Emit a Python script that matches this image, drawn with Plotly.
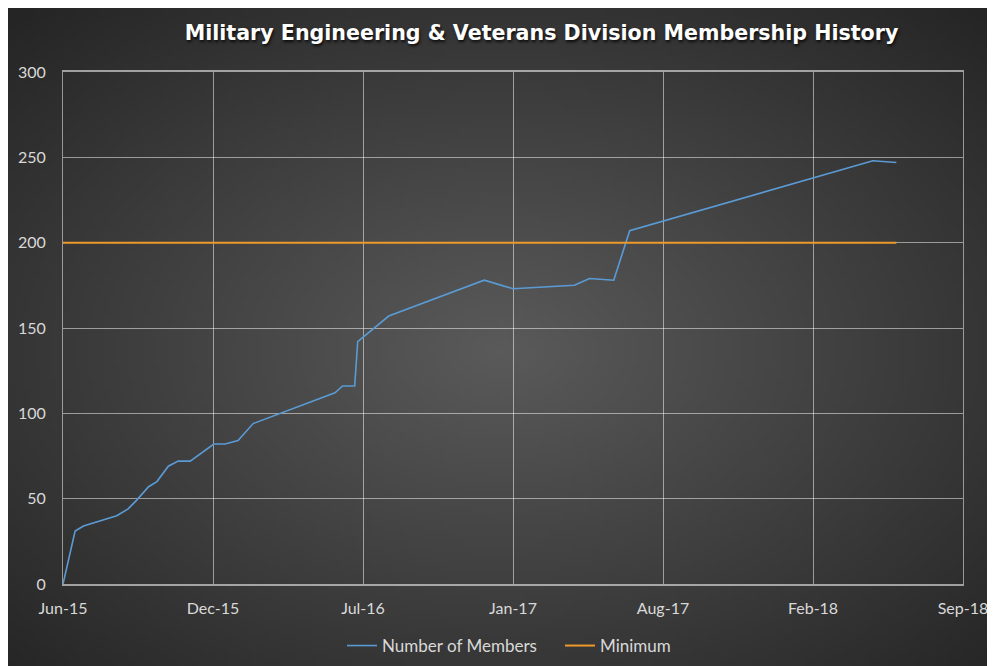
import base64
import struct
import zlib
import plotly.graph_objects as go

# ---- data ----
dates = ["2015-06-06", "2015-06-22", "2015-07-03", "2015-08-16", "2015-08-31",
         "2015-09-11", "2015-09-27", "2015-10-08", "2015-10-23", "2015-11-05",
         "2015-11-21", "2015-12-13", "2015-12-22", "2016-01-06", "2016-01-23",
         "2016-02-12", "2016-05-30", "2016-06-09", "2016-06-25", "2016-06-29",
         "2016-08-09", "2016-12-13", "2017-01-20", "2017-04-11", "2017-05-01",
         "2017-06-02", "2017-06-23", "2018-05-10", "2018-06-10"]
members = [0, 31, 34, 40, 44, 49, 57, 60, 69, 72,
           72, 79, 82, 82, 84, 94, 112, 116, 116, 142,
           157, 178, 173, 175, 179, 178, 207, 248, 247]
minimum = [200] * len(dates)

tick_vals = ["2015-06-06", "2015-12-21", "2016-07-06", "2017-01-20",
             "2017-08-06", "2018-02-20", "2018-09-06"]
tick_text = ["Jun-15", "Dec-15", "Jul-16", "Jan-17", "Aug-17", "Feb-18", "Sep-18"]
y_ticks = [0, 50, 100, 150, 200, 250, 300]


# ---- radial gradient background as an inline PNG ----
def radial_png(w, h, c_center, c_edge):
    rows = b""
    for j in range(h):
        row = bytearray([0])
        for i in range(w):
            dx = (i + 0.5 - w * 0.5) / (w * 0.5)
            dy = (j + 0.5 - h * 0.52) / (h * 0.5)
            r = min(1.0, (dx * dx + dy * dy) ** 0.5 / 1.414)
            v = int(round(c_center + (c_edge - c_center) * r))
            row.append(v)
        rows += bytes(row)

    def chunk(tag, data):
        c = struct.pack(">I", len(data)) + tag + data
        return c + struct.pack(">I", zlib.crc32(tag + data) & 0xFFFFFFFF)

    png = b"\x89PNG\r\n\x1a\n"
    png += chunk(b"IHDR", struct.pack(">IIBBBBB", w, h, 8, 0, 0, 0, 0))
    png += chunk(b"IDAT", zlib.compress(rows, 9))
    png += chunk(b"IEND", b"")
    return "data:image/png;base64," + base64.b64encode(png).decode()


bg = radial_png(200, 134, 90, 37)

W, H = 987, 658
L, R, T, B = 55, 32, 64, 82
pw, ph = W - L - R, H - T - B

fig = go.Figure()
fig.add_trace(go.Scatter(x=dates, y=members, mode="lines", name="Number of Members",
                         line=dict(color="#5b9bd5", width=1.6)))
fig.add_trace(go.Scatter(x=dates, y=minimum, mode="lines", name="Minimum",
                         line=dict(color="#ed9a2a", width=2)))

grid = "rgba(255,255,255,0.5)"
fig.update_layout(
    width=W, height=H,
    margin=dict(l=L, r=R, t=T, b=B, autoexpand=False),
    paper_bgcolor="#262626",
    plot_bgcolor="rgba(0,0,0,0)",
    font=dict(family="Lato, 'Open Sans', sans-serif", color="#d9d9d9", size=16),
    title=dict(text="<b>Military Engineering &amp; Veterans Division Membership History</b>",
               x=533.5 / W, xanchor="center", y=1 - 25 / H, yanchor="middle",
               font=dict(size=20.6, color="white", family="'DejaVu Sans', sans-serif",
                         shadow="1px 2px 3px rgba(0,0,0,0.8)")),
    xaxis=dict(type="date", range=[tick_vals[0], tick_vals[-1]],
               tickmode="array", tickvals=tick_vals, ticktext=tick_text,
               showgrid=True, gridcolor=grid, gridwidth=1, automargin=False,
               showline=True, linecolor="rgba(255,255,255,0.55)", linewidth=1.5, mirror=True,
               ticks="", ticklabelstandoff=9, zeroline=False,
               tickfont=dict(size=16, color="#d9d9d9")),
    yaxis=dict(range=[0, 300], tickmode="array", tickvals=y_ticks,
               showgrid=True, gridcolor=grid, gridwidth=1, automargin=False,
               showline=True, linecolor=grid, linewidth=1, mirror=True,
               ticks="", ticklabelstandoff=13, zeroline=False,
               tickfont=dict(size=16, color="#d9d9d9")),
    legend=dict(orientation="h", xref="container", yref="container",
                x=334 / W, xanchor="left", y=1 - 638 / H, yanchor="middle",
                font=dict(size=17, color="#d9d9d9"),
                bgcolor="rgba(0,0,0,0)", itemwidth=30, entrywidth=173),
    images=[dict(source=bg, xref="paper", yref="paper",
                 x=-L / pw, y=1 + T / ph, sizex=W / pw, sizey=H / ph,
                 xanchor="left", yanchor="top", sizing="stretch", layer="below")],
    showlegend=True,
)

fig.write_html("out.html")
